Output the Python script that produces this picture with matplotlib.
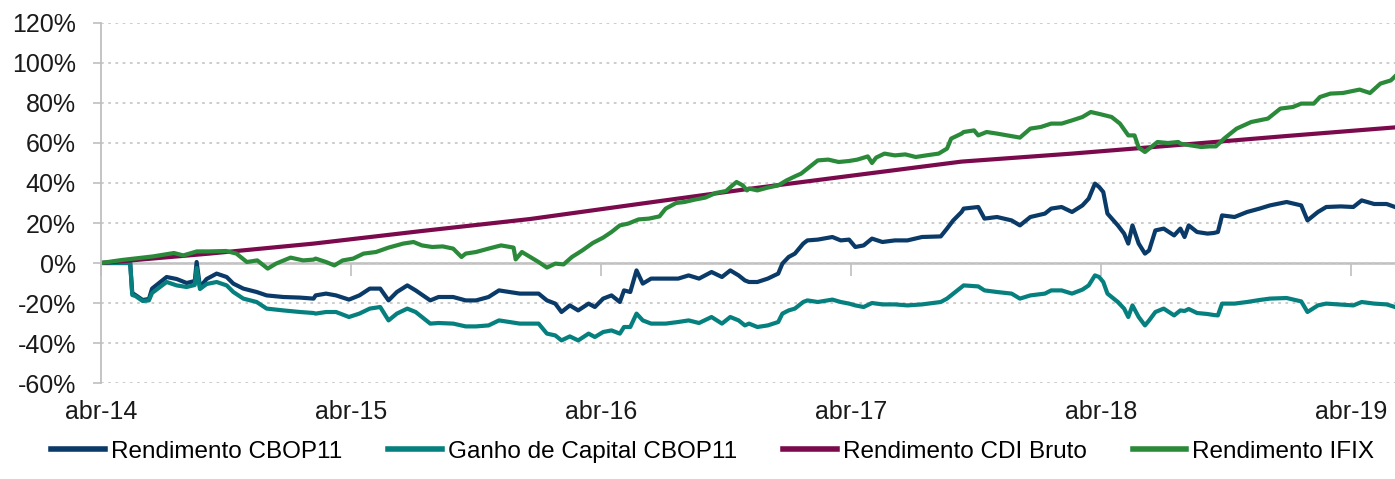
import matplotlib
matplotlib.use("Agg")
import matplotlib.pyplot as plt
from matplotlib.ticker import FuncFormatter

# -------------------------------------------------------------------
# Data (x = months since abr-14, y = % return)
# -------------------------------------------------------------------
cbop_months = [
    0, 1.4, 1.5, 1.65, 2.0, 2.3, 2.45, 3.15, 3.63, 4.11, 4.5, 4.59, 4.75, 5.07, 5.55,
    6.03, 6.35, 6.83, 7.47, 7.95, 8.75, 9.55, 10.2,
    10.3, 10.8, 11.28, 11.9, 12.4, 12.9, 13.4, 13.8, 14.2, 14.7, 15.1, 15.8, 16.2,
    16.9, 17.5, 18.0, 18.6, 19.1, 19.6, 20.1, 20.6,
    21.0, 21.4, 21.8, 22.1, 22.5, 22.9, 23.4, 23.7, 24.1, 24.5, 24.9, 25.1, 25.4,
    25.7, 26.0, 26.4, 27.1, 27.7, 28.2, 28.7, 29.3, 29.8, 30.2, 30.6, 30.9,
    31.1, 31.5, 32.0, 32.5, 32.7, 33.0, 33.3, 33.7, 33.9, 34.4, 35.1, 35.5, 35.9,
    36.2, 36.6, 37.0, 37.5, 38.1, 38.7, 39.4, 40.3, 40.6, 40.9, 41.3,
    41.4, 42.1, 42.4, 43.0, 43.7, 44.1, 44.6, 45.3, 45.6, 46.1, 46.6, 47.1, 47.4,
    47.7, 47.9, 48.1, 48.3, 48.8, 49.1, 49.3, 49.5, 49.8, 50.1, 50.3, 50.6, 51.0,
    51.5, 51.8,
    52.0, 52.2, 52.6, 53.1, 53.4, 53.6, 53.8, 54.4, 55.0, 55.6, 56.1, 56.9, 57.6,
    57.9, 58.4, 58.8, 59.5, 60.1, 60.5, 61.1, 61.7, 62.1,
]
rendimento_cbop11 = [
    0, 0, -15, -16, -18.5, -18, -12.8, -7, -8, -10, -9, 0.5, -12, -8, -5.3,
    -7, -10.3, -12.8, -14.5, -16.2, -17, -17.3, -17.8,
    -16.2, -15.3, -16.2, -18.3, -16.2, -12.8, -12.8, -18.7, -14.5, -11.2, -13.7, -18.7, -17,
    -17, -18.7, -18.7, -17, -13.7, -14.5, -15.3, -15.3,
    -15.3, -18.7, -20.3, -24.5, -21.2, -23.7, -20.3, -22, -17.8, -16.2, -19.5, -13.7, -14.5,
    -3.7, -10.3, -7.8, -7.8, -7.8, -6.2, -7.8, -4.5, -7, -3.7, -6.2, -8.7,
    -9.5, -9.5, -7.8, -5.3, -0.3, 3, 4.7, 9.7, 11.3, 11.7, 13, 11.3, 11.7,
    8, 8.8, 12.2, 10.5, 11.3, 11.3, 13, 13.3, 17.2, 21.3, 25.5,
    27.2, 28, 22.2, 23, 21.3, 18.8, 23, 24.7, 27.2, 28, 25.5, 28.8, 32.2,
    39.7, 38, 35.5, 24.7, 18.8, 14.7, 9.7, 18.8, 9.7, 4.7, 6.3, 16.3, 17.2,
    13.8, 17.2,
    13, 18.8, 15.5, 14.7, 15, 15.5, 23.8, 23, 25.5, 27.2, 28.8, 30.5, 28.8,
    21.3, 25.5, 28, 28.3, 28, 31.3, 29.5, 29.5, 28,
]
ganho_capital_cbop11 = [
    0, 0, -16, -16.5, -19, -18.7, -15, -9.5, -11.2, -12, -11, -2.5, -13, -10.5, -9.5,
    -11.2, -14.5, -17.8, -19.5, -22.8, -23.7, -24.5, -25,
    -25.3, -24.5, -24.5, -27, -25.3, -22.8, -22, -28.7, -25.3, -22.8, -24.5, -30.3, -30,
    -30.3, -31.7, -31.7, -31.2, -28.7, -29.5, -30.3, -30.3,
    -30.3, -35.3, -36.2, -38.7, -36.7, -38.7, -35.3, -37, -34.5, -33.7, -35.3, -32, -32,
    -25.3, -28.7, -30.3, -30.3, -29.5, -28.7, -30, -27, -30.3, -27, -28.7, -31.2,
    -30.3, -32, -31.2, -29.5, -25.3, -23.7, -22.8, -19.5, -18.7, -19.5, -18.3, -19.5, -20.3,
    -21.2, -22, -20, -20.7, -20.7, -21.2, -20.7, -19.5, -17.8, -15.3, -12,
    -11.2, -11.7, -13.7, -14.5, -15.3, -17.8, -16.2, -15.3, -13.7, -13.7, -15.3, -13.3, -11.2,
    -6.2, -7, -9.5, -15.3, -19.5, -22.8, -27, -21.2, -27, -31.2, -28.7, -24.5, -22.8,
    -26.2, -23.7,
    -24, -23, -25, -25.5, -26, -26.2, -20.3, -20.3, -19.5, -18.5, -17.8, -17.5, -19.2,
    -24.5, -21.2, -20.3, -20.8, -21.2, -19.5, -20.3, -20.7, -22,
]

cdi_months = [0, 5.2, 10.2, 15.4, 20.6, 25.8, 30.9, 36.2, 41.3, 46.6, 51.7, 56.9, 62.1]
rendimento_cdi = [0, 4.7, 9.7, 16, 22, 29.5, 36.8, 43.9, 50.7, 54.7, 59, 63.5, 67.8]

ifix_months = [
    0, 1.0, 2.5, 3.5, 3.95, 4.6, 5.2, 6.0, 6.5, 7.0, 7.5, 8.0, 8.4, 9.1, 9.7, 10.2,
    10.3, 10.8, 11.2, 11.6, 12.1, 12.6, 13.2, 13.8, 14.5, 15.0, 15.4, 15.9, 16.4,
    16.9, 17.3, 17.5, 18.0, 18.6, 19.2, 19.8, 19.9, 20.2, 20.6,
    21.0, 21.4, 21.8, 22.2, 22.6, 23.1, 23.6, 24.1, 24.5, 24.9, 25.3, 25.8, 26.3,
    26.8, 27.1, 27.6, 28.0, 28.5, 29.0, 29.5, 30.0, 30.3, 30.5, 30.8, 31.0,
    31.1, 31.5, 32.0, 32.5, 32.9, 33.3, 33.6, 34.0, 34.4, 34.9, 35.4, 35.9, 36.3,
    36.8, 37.0, 37.2, 37.6, 38.1, 38.6, 39.1, 39.6, 40.2, 40.6, 40.8, 41.3,
    41.4, 41.9, 42.1, 42.5, 43.0, 43.5, 44.1, 44.6, 45.1, 45.6, 46.1, 46.6, 47.1,
    47.5, 48.0, 48.5, 48.9, 49.3, 49.6, 49.8, 50.1, 50.4, 50.7, 51.2, 51.7,
    51.8, 52.3, 52.8, 53.2, 53.5, 53.9, 54.5, 55.2, 56.0, 56.6, 57.2, 57.6, 58.2,
    58.5, 59.0, 59.6, 60.4, 60.9, 61.4, 61.9, 62.1,
]
rendimento_ifix = [
    0, 1.5, 3.3, 5, 3.8, 5.8, 5.8, 6, 4.7, 0.5, 1.3, -2.8, -0.3, 2.7, 1.3, 1.7,
    2.2, 0.5, -1.2, 1.3, 2.2, 4.7, 5.5, 7.7, 9.7, 10.5, 8.8, 8, 8.3,
    7.2, 3, 4.7, 5.5, 7.2, 8.8, 7.7, 1.8, 5.5, 3,
    0.5, -2.3, -0.3, -0.7, 3, 6.3, 10, 12.7, 15.5, 18.8, 19.7, 21.8, 22.2,
    23.3, 27.2, 30, 30.5, 31.7, 32.7, 35, 36, 38.8, 40.5, 38.8, 36.3,
    37.2, 36.3, 37.7, 38.8, 41.3, 43.3, 44.7, 48, 51.3, 51.7, 50.5, 51, 51.7,
    53.3, 50, 52.7, 54.7, 53.8, 54.3, 53, 53.8, 54.7, 57.2, 62.2, 64.7,
    65.5, 66.3, 63.8, 65.5, 64.7, 63.8, 62.7, 67.2, 68, 69.7, 69.7, 71.3, 73,
    75.5, 74.3, 73, 69.7, 63.8, 63.8, 57.7, 55.5, 58, 60.5, 60, 60.5,
    59.7, 58.8, 58, 58.3, 58.3, 62.2, 67.2, 70.5, 72.2, 77.2, 78, 79.7, 79.7,
    83, 84.7, 85, 86.7, 85, 89.7, 91.3, 93.3,
]

tick_months = [0, 12, 24, 36, 48, 60]
tick_labels = ["abr-14", "abr-15", "abr-16", "abr-17", "abr-18", "abr-19"]
y_ticks = [-60, -40, -20, 0, 20, 40, 60, 80, 100, 120]

COLORS = {
    "cbop": "#0a3a68",
    "ganho": "#05807f",
    "cdi": "#7a0a4c",
    "ifix": "#2a8a3a",
}
GRAY = "#bfbfbf"

# -------------------------------------------------------------------
# Plot
# -------------------------------------------------------------------
plt.rcParams["font.family"] = ["Liberation Sans", "DejaVu Sans"]

fig = plt.figure(figsize=(13.95, 4.79), dpi=100)
ax = fig.add_axes([0.0724, 0.2004, 0.9276, 0.7516])

ax.plot(cbop_months, rendimento_cbop11, color=COLORS["cbop"], lw=3,
        label="Rendimento CBOP11", solid_joinstyle="round")
ax.plot(cbop_months, ganho_capital_cbop11, color=COLORS["ganho"], lw=3,
        label="Ganho de Capital CBOP11", solid_joinstyle="round")
ax.plot(cdi_months, rendimento_cdi, color=COLORS["cdi"], lw=3,
        label="Rendimento CDI Bruto")
ax.plot(ifix_months, rendimento_ifix, color=COLORS["ifix"], lw=3,
        label="Rendimento IFIX", solid_joinstyle="round")

ymin, ymax = -60, 120
ax.set_ylim(ymin, ymax)
ax.set_xlim(0, 62.1)

# y axis
ax.set_yticks(y_ticks)
ax.yaxis.set_major_formatter(FuncFormatter(lambda v, _: f"{v:.0f}%"))
ax.tick_params(axis="y", direction="out", length=6, width=1.2, color=GRAY,
               labelsize=18, labelcolor="#1a1a1a", pad=12)
ax.yaxis.grid(True, linestyle=(0, (1.5, 2.5)), color="#c8c8c8", lw=1.3)
ax.set_axisbelow(True)

# x axis labels at bottom, no tick marks
ax.set_xticks(tick_months)
ax.set_xticklabels(tick_labels)
ax.tick_params(axis="x", length=0, labelsize=18, labelcolor="#1a1a1a", pad=12)

for side in ("top", "right", "bottom"):
    ax.spines[side].set_visible(False)
ax.spines["left"].set_color(GRAY)
ax.spines["left"].set_linewidth(1.3)

# horizontal axis line crossing at 0%
zero_frac = (0 - ymin) / (ymax - ymin)
sec = ax.secondary_xaxis(zero_frac)
sec.set_xticks(tick_months)
sec.set_xticklabels([])
sec.tick_params(axis="x", direction="out", length=9, width=1.2, color=GRAY)
sec.spines["bottom"].set_color(GRAY)
sec.spines["bottom"].set_linewidth(1.8)
for side in ("top", "left", "right"):
    sec.spines[side].set_visible(False)

leg = fig.legend(loc="lower center", bbox_to_anchor=(0.511, -0.012), ncol=4,
                 frameon=False, fontsize=17.5, handlelength=2.2,
                 handletextpad=0.25, columnspacing=1.9)
for line in leg.get_lines():
    line.set_linewidth(4)

fig.savefig("out.png", dpi=100)
